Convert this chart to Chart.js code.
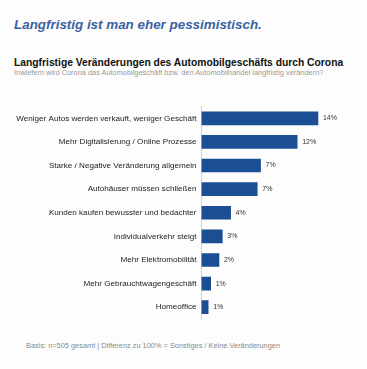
<!DOCTYPE html>
<html>
<head>
<meta charset="utf-8">
<script src="https://cdn.jsdelivr.net/npm/chart.js@4"></script>
<style>
  html, body { margin: 0; padding: 0; background: #fdfdfd; }
  body { width: 367px; height: 369px; position: relative; overflow: hidden; font-family: "Liberation Sans", Arial, sans-serif; }
  .t { position: absolute; white-space: nowrap; line-height: 1; }
  #title { left: 14px; top: 18px; font-size: 13.4px; font-weight: bold; font-style: italic; color: #3b62a0; }
  #sub { left: 14px; top: 58px; font-size: 10.3px; font-weight: bold; color: #111; }
  #q { left: 14px; top: 68.5px; font-size: 7.4px; color: #9a9a9a; }
  #foot { left: 26px; top: 342px; font-size: 7.4px; color: #8a8a8a; }
  #wrap { position: absolute; left: 0; top: 0; width: 367px; height: 369px; }
</style>
</head>
<body>
<div class="t" id="title">Langfristig ist man eher pessimistisch.</div>
<div class="t" id="sub">Langfristige Veränderungen des Automobilgeschäfts durch Corona</div>
<div class="t" id="q">Inwiefern wird Corona das Automobilgeschäft bzw. den Automobilhandel langfristig verändern?</div>
<div class="t" id="foot">Basis: n=505 gesamt | Differenz zu 100% = Sonstiges / Keine Veränderungen</div>
<div id="wrap"><canvas id="c" width="367" height="369"></canvas></div>
<script>
const categories = [
  "Weniger Autos werden verkauft, weniger Geschäft",
  "Mehr Digitalisierung / Online Prozesse",
  "Starke / Negative Veränderung allgemein",
  "Autohäuser müssen schließen",
  "Kunden kaufen bewusster und bedachter",
  "Individualverkehr steigt",
  "Mehr Elektromobilität",
  "Mehr Gebrauchtwagengeschäft",
  "Homeoffice"
];
const values = [14, 11.5, 7.1, 6.7, 3.5, 2.5, 2.1, 1.1, 0.8];
const valueLabels = ["14%", "12%", "7%", "7%", "4%", "3%", "2%", "1%", "1%"];

const FONT = "'Liberation Sans', Arial, sans-serif";

const valueLabelPlugin = {
  id: 'valueLabels',
  afterDatasetsDraw(chart) {
    const ctx = chart.ctx;
    const meta = chart.getDatasetMeta(0);
    ctx.save();
    ctx.font = "7px " + FONT;
    ctx.fillStyle = "#333";
    ctx.textAlign = "left";
    ctx.textBaseline = "middle";
    meta.data.forEach((bar, i) => {
      ctx.fillText(valueLabels[i], bar.x + 5, bar.y);
    });
    ctx.restore();
  }
};

new Chart(document.getElementById('c'), {
  type: 'bar',
  data: {
    labels: categories,
    datasets: [{
      data: values,
      backgroundColor: '#1b4e92',
      borderWidth: 0,
      barThickness: 13
    }]
  },
  options: {
    indexAxis: 'y',
    responsive: false,
    animation: false,
    devicePixelRatio: 1,
    layout: { padding: { left: 0, top: 106.5, bottom: 50, right: 32.4 } },
    plugins: { legend: { display: false }, tooltip: { enabled: false }, title: { display: false } },
    scales: {
      x: { display: false, min: 0, max: 16 },
      y: {
        afterFit(scale) { scale.width = 201.5; },
        grid: { display: false, drawTicks: false },
        border: { display: true, color: '#c8d0dc', width: 1 },
        ticks: { color: '#222', font: { family: FONT, size: 8.1 }, padding: 5, autoSkip: false }
      }
    }
  },
  plugins: [valueLabelPlugin]
});
</script>
</body>
</html>
